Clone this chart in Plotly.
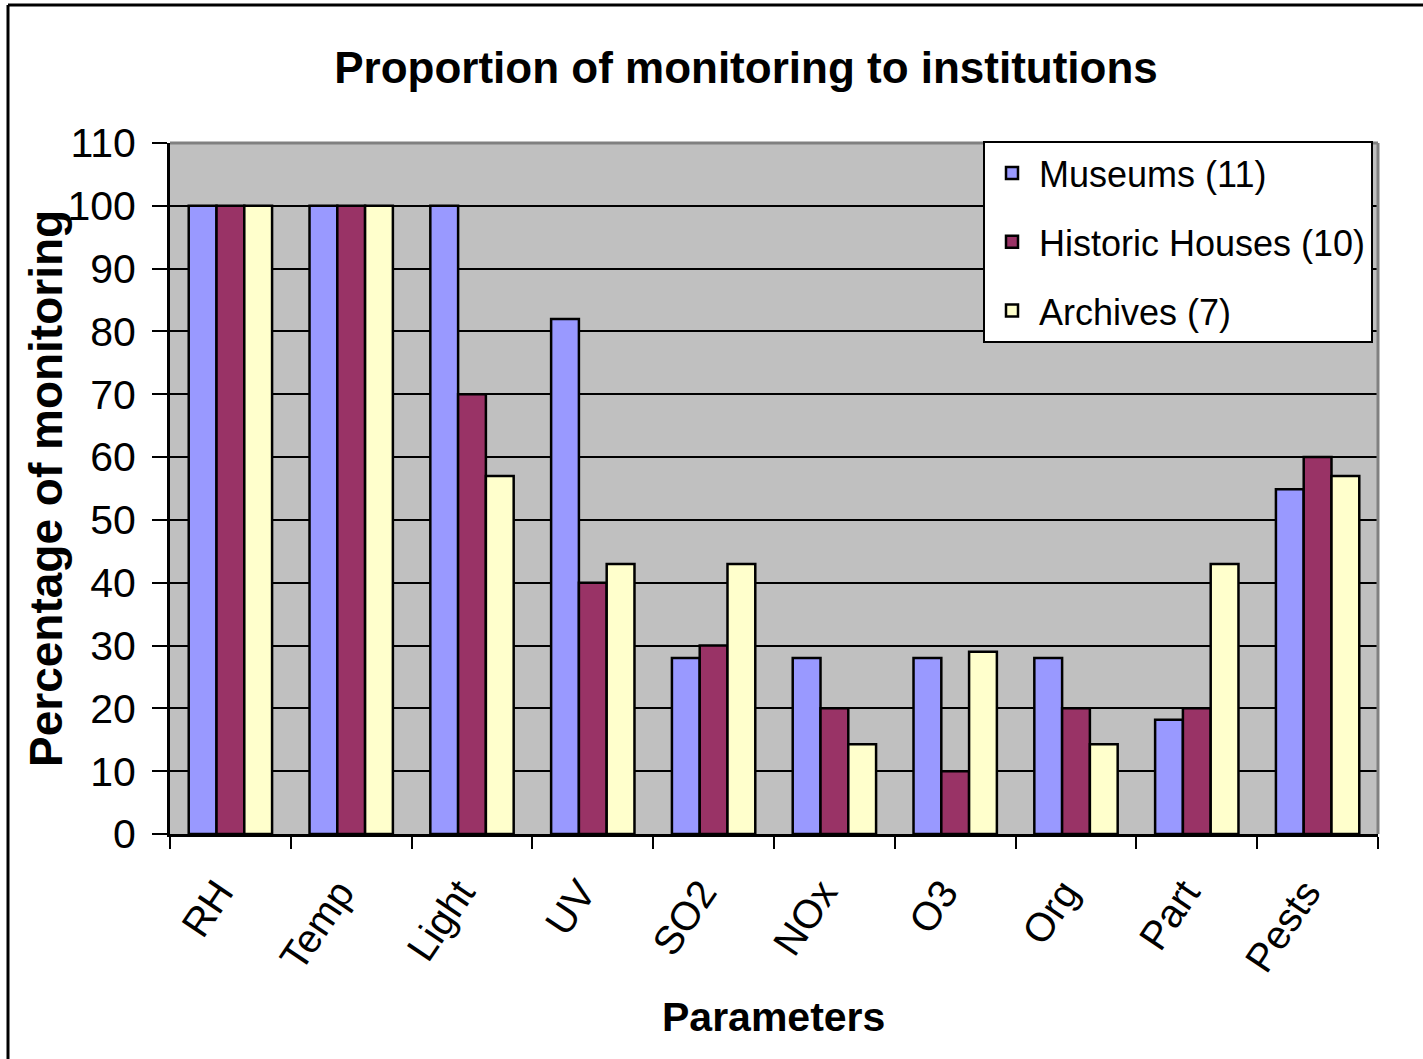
import plotly.graph_objects as go

categories = ["RH", "Temp", "Light", "UV", "SO2", "NOx", "O3", "Org", "Part", "Pests"]
museums = [100, 100, 100, 82, 28, 28, 28, 28, 18.2, 54.9]
historic = [100, 100, 70, 40, 30, 20, 10, 20, 20, 60]
archives = [100, 100, 57, 43, 43, 14.3, 29, 14.3, 43, 57]
series_names = ["Museums (11)", "Historic Houses (10)", "Archives (7)"]
series_colors = ["#9999FF", "#993366", "#FFFFCC"]
y_ticks = list(range(0, 111, 10))

W, H = 1423, 1059
L, R, T, B = 170, 1378, 143, 834
pw, ph = R - L, B - T

def px_x(x):
    return (x - L) / pw

def px_y(y):
    return (B - y) / ph

FONT = "Liberation Sans, Arial, sans-serif"

fig = go.Figure()
for i, (name, vals, col) in enumerate(zip(series_names, [museums, historic, archives], series_colors)):
    fig.add_trace(go.Bar(
        x=categories, y=vals, name=name, legendgroup=f"g{i}",
        marker=dict(color=col, line=dict(color="black", width=2.5)),
    ))

fig.update_layout(
    width=W, height=H,
    margin=dict(l=L, r=W - R, t=T, b=H - B, autoexpand=False),
    paper_bgcolor="white",
    plot_bgcolor="#C0C0C0",
    barmode="group",
    bargap=0.31,
    bargroupgap=0.0,
    font=dict(family=FONT, color="black"),
    title=dict(
        text="<b>Proportion of monitoring to institutions</b>",
        x=746 / W, xanchor="center", y=1 - 68 / H, yanchor="middle",
        font=dict(size=44, family=FONT, color="black"),
    ),
    xaxis=dict(
        type="category",
        tickson="boundaries",
        ticks="outside", ticklen=12, tickwidth=2, tickcolor="black",
        showline=True, linecolor="black", linewidth=3,
        showgrid=False,
        tickangle=-56,
        tickfont=dict(size=40, family=FONT, color="black"),
        ticklabelstandoff=16,
        ticklabelshift=-12,
    ),
    yaxis=dict(
        range=[0, 110],
        tickvals=y_ticks,
        ticks="outside", ticklen=15, tickwidth=2, tickcolor="black",
        showline=True, linecolor="black", linewidth=3,
        showgrid=True, gridcolor="black", gridwidth=2,
        zeroline=False,
        tickfont=dict(size=41, family=FONT, color="black"),
        ticklabelstandoff=8,
    ),
    legend=dict(
        x=px_x(983), y=px_y(141), xanchor="left", yanchor="top",
        bgcolor="white", bordercolor="black", borderwidth=2,
        font=dict(size=36, family=FONT, color="black"),
        tracegroupgap=19,
        traceorder="grouped",
        itemwidth=44,
    ),
    showlegend=True,
)

# plot area gray border (top and right)
fig.add_shape(type="line", xref="paper", yref="paper", x0=0, x1=1, y0=1, y1=1,
              line=dict(color="#808080", width=3), layer="above")
fig.add_shape(type="line", xref="paper", yref="paper", x0=1, x1=1, y0=0, y1=1,
              line=dict(color="#808080", width=3), layer="above")

# outer chart border (top and left visible)
fig.add_shape(type="line", xref="paper", yref="paper",
              x0=px_x(8), x1=px_x(W + 10), y0=px_y(5), y1=px_y(5),
              line=dict(color="black", width=3), layer="above")
fig.add_shape(type="line", xref="paper", yref="paper",
              x0=px_x(8), x1=px_x(8), y0=px_y(5), y1=px_y(H + 10),
              line=dict(color="black", width=3), layer="above")

# axis titles
fig.add_annotation(text="<b>Percentage of monitoring</b>", xref="paper", yref="paper",
                   x=px_x(46), y=px_y(489), textangle=-90, showarrow=False,
                   xanchor="center", yanchor="middle",
                   font=dict(size=46, family=FONT, color="black"))
fig.add_annotation(text="<b>Parameters</b>", xref="paper", yref="paper",
                   x=px_x(773), y=px_y(1017), showarrow=False,
                   xanchor="center", yanchor="middle",
                   font=dict(size=41, family=FONT, color="black"))

fig.write_html("out.html", config={"displayModeBar": False})

# remove default page margin so the figure sits at the window origin
with open("out.html", "r", encoding="utf-8") as f:
    html = f.read()
html = html.replace("<head>", "<head><style>html,body{margin:0;padding:0;overflow:hidden;}</style>", 1)
with open("out.html", "w", encoding="utf-8") as f:
    f.write(html)
